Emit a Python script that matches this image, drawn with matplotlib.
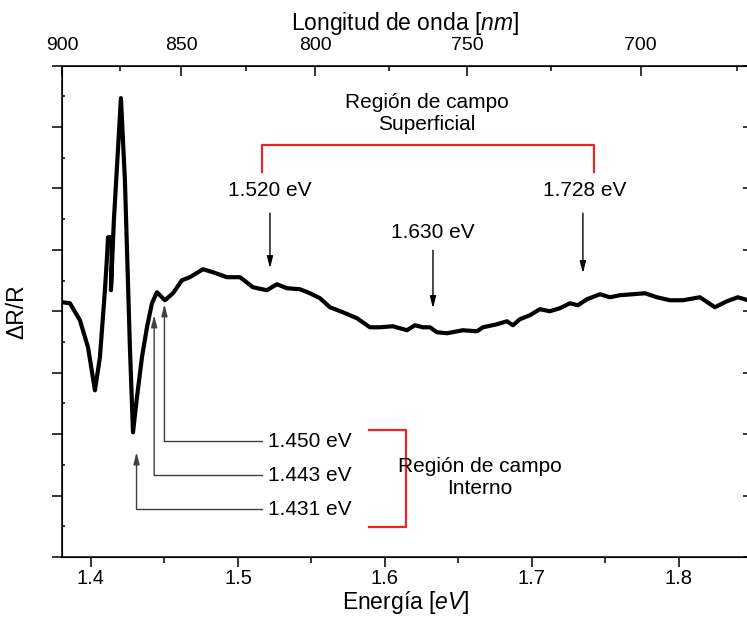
import matplotlib
matplotlib.use('Agg')
from matplotlib import pyplot
from matplotlib.ticker import FixedLocator, MultipleLocator, NullFormatter

pyplot.rcParams['font.family'] = ['Liberation Sans', 'DejaVu Sans']
pyplot.rcParams['mathtext.fontset'] = 'custom'
pyplot.rcParams['mathtext.rm'] = 'Liberation Sans'
pyplot.rcParams['mathtext.it'] = 'Liberation Sans:italic'

# photoreflectance spectrum (arbitrary units)
energy = [
    1.3803, 1.3857, 1.3925, 1.3980, 1.4027, 1.4061, 1.4095, 1.4109, 1.4116,
    1.4143, 1.4136, 1.4156, 1.4204, 1.4231, 1.4265, 1.4286, 1.4313, 1.4347,
    1.4381, 1.4415, 1.4449, 1.4476, 1.4503, 1.4558, 1.4619, 1.4673, 1.4762,
    1.4830, 1.4925, 1.5014, 1.5102, 1.5197, 1.5265, 1.5333, 1.5422, 1.5490,
    1.5558, 1.5626, 1.5714, 1.5810, 1.5898, 1.5966, 1.6054, 1.6150, 1.6204,
    1.6259, 1.6306, 1.6354, 1.6422, 1.6531, 1.6626, 1.6667, 1.6762, 1.6830,
    1.6871, 1.6918, 1.6986, 1.7054, 1.7122, 1.7190, 1.7259, 1.7313, 1.7374,
    1.7463, 1.7531, 1.7599, 1.7687, 1.7769, 1.7850, 1.7939, 1.8027, 1.8143,
    1.8245, 1.8327, 1.8401, 1.8469,
]
signal = [
    0.147, 0.130, -0.147, -0.586, -1.287, -0.749, 0.342, 0.879, 1.205,
    1.205, 0.342, 1.482, 3.469, 2.134, -0.586, -1.971, -1.401, -0.749,
    -0.261, 0.130, 0.309, 0.244, 0.179, 0.293, 0.505, 0.554, 0.684,
    0.635, 0.554, 0.554, 0.391, 0.342, 0.440, 0.375, 0.358, 0.293,
    0.212, 0.065, -0.016, -0.114, -0.261, -0.261, -0.244, -0.309, -0.228,
    -0.261, -0.261, -0.342, -0.358, -0.309, -0.326, -0.261, -0.212, -0.163,
    -0.228, -0.130, -0.065, 0.033, 0.000, 0.049, 0.130, 0.098, 0.195,
    0.277, 0.228, 0.261, 0.277, 0.293, 0.228, 0.179, 0.179, 0.228,
    0.065, 0.163, 0.228, 0.179,
]

wavelength_major = [900, 850, 800, 750, 700]
wavelength_minor = [875, 825, 775, 725, 675]

surface_peaks = [1.520, 1.630, 1.728]
internal_peaks = [1.450, 1.443, 1.431]

red = '#ee2424'
hc = 1239.84

figure = pyplot.figure(figsize=(7.47, 6.21), dpi=100)
ax = figure.add_axes([62 / 747, 1 - 557 / 621, 687 / 747, 491.5 / 621])

ax.plot(energy, signal, color='black', linewidth=3, solid_joinstyle='round')
ax.set_xlim(1.3803, 1.8477)
ax.set_ylim(-4, 4)

# axes styling
for side in ['left', 'bottom', 'top', 'right']:
    ax.spines[side].set_linewidth(1.1)
ax.xaxis.set_major_locator(MultipleLocator(0.1))
ax.xaxis.set_minor_locator(MultipleLocator(0.05))
ax.yaxis.set_major_locator(MultipleLocator(1))
ax.yaxis.set_minor_locator(MultipleLocator(0.5))
ax.yaxis.set_major_formatter(NullFormatter())
ax.tick_params(axis='x', which='major', direction='out', length=7, width=1.1,
               labelsize=14.5, pad=2)
ax.tick_params(axis='x', which='minor', direction='out', length=4.5, width=1.1)
ax.tick_params(axis='y', which='major', direction='out', length=7, width=1.1)
ax.tick_params(axis='y', which='minor', direction='in', length=2, width=1.1)
ax.set_xlabel('Energía [$\\mathit{eV}$]', fontsize=16.5, labelpad=0)
ax.set_ylabel('ΔR/R', fontsize=16.5, labelpad=14)

right = ax.secondary_yaxis('right')
right.yaxis.set_major_locator(MultipleLocator(1))
right.yaxis.set_major_formatter(NullFormatter())
right.tick_params(direction='in', length=4, width=1.1)
right.spines['right'].set_linewidth(1.1)

# wavelength axis on top (900 nm sits on the left edge)
top = ax.twiny()
top.set_xlim(hc / 900, hc / 900 + 0.4674)
top.xaxis.set_major_locator(FixedLocator([hc / w for w in wavelength_major]))
top.xaxis.set_minor_locator(FixedLocator([hc / w for w in wavelength_minor]))
top.set_xticklabels([str(w) for w in wavelength_major])
top.tick_params(axis='x', which='major', direction='in', length=7, width=1.1,
                labelsize=14, pad=8)
top.tick_params(axis='x', which='minor', direction='in', length=3.5, width=1.1)
top.set_xlabel('Longitud de onda [$\\mathit{nm}$]', fontsize=16.5, labelpad=5)

text_size = 15

# surface field region
ax.plot([1.5163, 1.5163, 1.7422, 1.7422], [2.264, 2.704, 2.704, 2.264],
        color=red, linewidth=1.6)
ax.text(1.6286, 3.217, 'Región de campo\nSuperficial', ha='center', va='center',
        fontsize=text_size, linespacing=1.25)
surface_label_x = [1.5218, 1.6327, 1.7361]
surface_label_y = [1.97, 1.287, 1.97]
surface_arrow_x = [1.5218, 1.6327, 1.7347]
surface_arrow = [(1.596, 0.700), (0.993, 0.049), (1.596, 0.619)]
for peak, lx, ly, arrow_x, (start, tip) in zip(surface_peaks, surface_label_x,
                                                surface_label_y, surface_arrow_x,
                                                surface_arrow):
    ax.text(lx, ly, f'{peak:.3f} eV', ha='center', va='center', fontsize=text_size)
    ax.annotate('', xy=(arrow_x, tip), xytext=(arrow_x, start),
                arrowprops=dict(arrowstyle='-|>,head_length=0.7,head_width=0.18',
                                color='black', lw=1, shrinkA=0, shrinkB=0))

# internal field region
ax.plot([1.5891, 1.6143, 1.6143, 1.5891], [-1.938, -1.938, -3.518, -3.518],
        color=red, linewidth=1.6)
ax.text(1.6646, -2.704, 'Región de campo\nInterno', ha='center', va='center',
        fontsize=text_size, linespacing=1.25)
internal_label_y = [-2.117, -2.671, -3.225]
internal_tip = [0.114, -0.065, -2.296]
for peak, label_y, tip in zip(internal_peaks, internal_label_y, internal_tip):
    ax.text(1.5204, label_y, f'{peak:.3f} eV', ha='left', va='center', fontsize=text_size)
    ax.plot([1.5163, peak], [label_y, label_y], color='#404040', linewidth=1)
    ax.annotate('', xy=(peak, tip), xytext=(peak, label_y),
                arrowprops=dict(arrowstyle='-|>,head_length=0.7,head_width=0.18',
                                color='#404040', lw=1, shrinkA=0, shrinkB=0))

figure.savefig('out.png', dpi=100)
